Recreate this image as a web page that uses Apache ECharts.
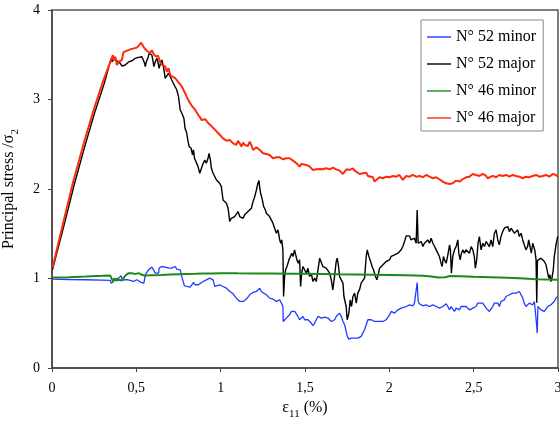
<!DOCTYPE html>
<html>
<head>
<meta charset="utf-8">
<script src="https://cdn.jsdelivr.net/npm/echarts@6/dist/echarts.min.js"></script>
<style>
  html, body { margin: 0; padding: 0; background: #fff; }
  #chart { width: 560px; height: 422px; }
</style>
</head>
<body>
<div id="chart"></div>
<script>
// Axis ticks
var xTicks = [0, 0.5, 1, 1.5, 2, 2.5, 3];
var yTicks = [0, 1, 2, 3, 4];

// Series names
var seriesNames = ['N° 52 minor', 'N° 52 major', 'N° 46 minor', 'N° 46 major'];

// Specimen 52, minor principal stress: [strain %, stress ratio]
var n52Minor = [
  [0.003,0.993],[0.099,0.989],[0.197,0.986],[0.296,0.982],[0.345,0.978],[0.351,0.948],[0.359,0.941],[0.365,0.967],
  [0.375,0.993],[0.385,0.986],[0.395,1.004],[0.405,0.993],[0.410,1.03],[0.418,0.978],[0.430,0.986],[0.438,0.967],
  [0.450,0.986],[0.464,0.978],[0.474,0.993],[0.484,0.967],[0.493,0.978],[0.503,0.986],[0.513,0.967],[0.529,0.956],
  [0.537,0.967],[0.545,0.948],[0.553,1.041],[0.562,1.06],[0.572,1.097],[0.582,1.116],[0.592,1.127],[0.602,1.097],
  [0.612,1.06],[0.622,1.079],[0.632,1.06],[0.635,1.116],[0.641,1.127],[0.651,1.134],[0.661,1.142],[0.671,1.127],
  [0.681,1.142],[0.691,1.116],[0.701,1.134],[0.710,1.116],[0.720,1.123],[0.730,1.134],[0.740,1.105],[0.750,1.09],
  [0.760,1.097],[0.770,1.015],[0.780,0.993],[0.785,0.919],[0.799,0.911],[0.809,0.919],[0.819,0.904],[0.829,0.93],
  [0.839,0.956],[0.849,0.93],[0.858,0.941],[0.868,0.93],[0.878,0.948],[0.896,0.966],[0.915,0.985],[0.935,1.004],
  [0.945,1.022],[0.955,0.985],[0.965,0.911],[0.975,0.93],[0.994,0.93],[1.014,0.911],[1.034,0.892],[1.054,0.855],
  [1.074,0.829],[1.093,0.781],[1.113,0.744],[1.123,0.725],[1.133,0.744],[1.153,0.77],[1.172,0.818],[1.192,0.844],
  [1.212,0.855],[1.222,0.874],[1.232,0.892],[1.241,0.855],[1.251,0.837],[1.271,0.818],[1.291,0.781],[1.301,0.762],
  [1.310,0.77],[1.330,0.744],[1.340,0.762],[1.350,0.762],[1.360,0.725],[1.369,0.688],[1.371,0.52],[1.380,0.539],
  [1.389,0.558],[1.399,0.576],[1.409,0.595],[1.419,0.632],[1.429,0.65],[1.439,0.632],[1.449,0.613],[1.458,0.576],
  [1.468,0.539],[1.478,0.558],[1.488,0.576],[1.498,0.539],[1.508,0.558],[1.518,0.539],[1.528,0.52],[1.537,0.502],
  [1.547,0.472],[1.557,0.502],[1.567,0.539],[1.577,0.576],[1.587,0.595],[1.597,0.558],[1.607,0.576],[1.616,0.569],
  [1.626,0.576],[1.636,0.558],[1.646,0.539],[1.656,0.52],[1.666,0.502],[1.676,0.539],[1.685,0.576],[1.695,0.595],
  [1.705,0.613],[1.715,0.576],[1.725,0.52],[1.735,0.483],[1.745,0.465],[1.751,0.353],[1.760,0.323],[1.774,0.334],
  [1.784,0.316],[1.794,0.334],[1.804,0.316],[1.814,0.334],[1.824,0.323],[1.833,0.353],[1.843,0.39],[1.853,0.427],
  [1.863,0.483],[1.873,0.539],[1.883,0.558],[1.893,0.539],[1.903,0.558],[1.912,0.52],[1.922,0.502],[1.932,0.52],
  [1.942,0.509],[1.962,0.52],[1.981,0.539],[2.001,0.594],[2.011,0.632],[2.021,0.65],[2.031,0.613],[2.041,0.632],
  [2.051,0.65],[2.060,0.632],[2.070,0.669],[2.080,0.658],[2.100,0.687],[2.120,0.706],[2.139,0.695],[2.149,0.725],
  [2.159,0.743],[2.165,0.955],[2.171,0.743],[2.179,0.717],[2.189,0.706],[2.199,0.695],[2.218,0.706],[2.238,0.687],
  [2.258,0.706],[2.278,0.687],[2.297,0.669],[2.307,0.65],[2.317,0.687],[2.337,0.717],[2.347,0.687],[2.357,0.65],
  [2.366,0.687],[2.376,0.658],[2.386,0.632],[2.396,0.669],[2.406,0.687],[2.416,0.65],[2.425,0.687],[2.435,0.669],
  [2.455,0.687],[2.475,0.65],[2.495,0.669],[2.514,0.687],[2.524,0.725],[2.534,0.743],[2.554,0.725],[2.574,0.669],
  [2.593,0.632],[2.603,0.65],[2.613,0.687],[2.623,0.725],[2.633,0.706],[2.643,0.725],[2.652,0.687],[2.662,0.743],
  [2.672,0.725],[2.682,0.762],[2.692,0.799],[2.702,0.781],[2.712,0.818],[2.722,0.799],[2.731,0.836],[2.741,0.855],
  [2.751,0.836],[2.761,0.844],[2.771,0.855],[2.781,0.836],[2.791,0.781],[2.800,0.725],[2.810,0.687],[2.820,0.706],
  [2.830,0.725],[2.840,0.743],[2.850,0.706],[2.860,0.743],[2.870,0.725],[2.874,0.465],[2.877,0.39],[2.881,0.687],
  [2.889,0.706],[2.899,0.65],[2.909,0.669],[2.919,0.632],[2.929,0.65],[2.939,0.687],[2.949,0.669],[2.958,0.706],
  [2.968,0.725],[2.978,0.743],[2.988,0.781],[2.998,0.799]
];

// Specimen 52, major principal stress
var n52Major = [
  [0.003,1.10],[0.072,1.60],[0.132,2.05],[0.192,2.46],[0.251,2.84],[0.31,3.18],[0.351,3.46],[0.355,3.42],
  [0.365,3.448],[0.375,3.441],[0.385,3.433],[0.395,3.448],[0.405,3.404],[0.414,3.374],[0.424,3.367],[0.434,3.385],
  [0.444,3.404],[0.454,3.42],[0.464,3.441],[0.474,3.433],[0.484,3.448],[0.493,3.46],[0.503,3.448],[0.513,3.471],
  [0.523,3.46],[0.533,3.478],[0.543,3.46],[0.549,3.404],[0.553,3.367],[0.559,3.42],[0.568,3.46],[0.576,3.516],
  [0.586,3.534],[0.592,3.497],[0.598,3.441],[0.604,3.367],[0.612,3.42],[0.622,3.46],[0.628,3.42],[0.635,3.348],
  [0.643,3.404],[0.651,3.441],[0.661,3.367],[0.671,3.237],[0.681,3.255],[0.691,3.292],[0.701,3.255],[0.710,3.218],
  [0.720,3.2],[0.730,3.143],[0.740,3.106],[0.750,3.032],[0.760,2.883],[0.770,2.846],[0.776,2.864],[0.782,2.79],
  [0.789,2.678],[0.799,2.623],[0.805,2.548],[0.813,2.474],[0.825,2.455],[0.833,2.381],[0.839,2.437],[0.845,2.344],
  [0.853,2.325],[0.866,2.25],[0.876,2.176],[0.886,2.231],[0.896,2.287],[0.906,2.324],[0.915,2.287],[0.925,2.343],
  [0.931,2.399],[0.939,2.324],[0.945,2.231],[0.955,2.176],[0.965,2.194],[0.975,2.101],[0.985,2.12],[0.994,2.064],
  [1.004,2.027],[1.014,1.878],[1.024,1.897],[1.034,1.841],[1.044,1.785],[1.054,1.636],[1.063,1.673],[1.073,1.655],
  [1.083,1.692],[1.093,1.673],[1.103,1.748],[1.113,1.692],[1.123,1.711],[1.133,1.673],[1.142,1.711],[1.152,1.729],
  [1.162,1.748],[1.172,1.748],[1.182,1.785],[1.192,1.859],[1.202,1.915],[1.212,1.99],[1.221,2.064],[1.227,2.094],
  [1.231,2.027],[1.237,1.952],[1.247,1.878],[1.255,1.804],[1.265,1.766],[1.271,1.729],[1.281,1.748],[1.290,1.692],
  [1.300,1.655],[1.310,1.618],[1.320,1.562],[1.330,1.506],[1.340,1.543],[1.350,1.432],[1.356,1.394],[1.362,1.432],
  [1.369,1.32],[1.373,0.799],[1.379,1.022],[1.385,1.097],[1.393,1.134],[1.405,1.208],[1.413,1.227],[1.421,1.283],
  [1.429,1.245],[1.438,1.32],[1.444,1.339],[1.452,1.208],[1.460,1.171],[1.468,1.208],[1.474,0.911],[1.480,1.06],
  [1.488,1.134],[1.498,1.153],[1.508,1.059],[1.517,1.115],[1.527,1.022],[1.537,1.059],[1.547,0.966],[1.557,1.004],
  [1.567,0.966],[1.577,1.097],[1.587,1.227],[1.596,1.208],[1.606,1.134],[1.616,1.153],[1.626,1.115],[1.636,1.134],
  [1.646,1.059],[1.656,0.985],[1.665,0.873],[1.675,1.022],[1.685,1.19],[1.691,1.227],[1.699,1.134],[1.705,1.022],
  [1.715,0.985],[1.725,0.948],[1.731,0.799],[1.736,0.818],[1.744,0.687],[1.750,0.539],[1.760,0.613],[1.768,0.762],
  [1.776,0.687],[1.784,0.799],[1.794,0.836],[1.804,0.725],[1.813,0.836],[1.823,0.873],[1.833,0.948],[1.843,0.966],
  [1.853,1.004],[1.863,1.246],[1.869,1.32],[1.879,1.246],[1.886,1.208],[1.898,1.134],[1.906,1.097],[1.918,1.022],
  [1.926,0.985],[1.936,1.059],[1.942,1.115],[1.952,1.134],[1.962,1.153],[1.972,1.171],[1.981,1.19],[1.991,1.171],
  [2.001,1.208],[2.011,1.246],[2.021,1.227],[2.031,1.264],[2.041,1.246],[2.051,1.283],[2.060,1.301],[2.070,1.32],
  [2.080,1.357],[2.090,1.413],[2.100,1.476],[2.110,1.487],[2.120,1.476],[2.129,1.431],[2.139,1.413],[2.149,1.45],
  [2.159,1.394],[2.165,1.766],[2.171,1.394],[2.179,1.376],[2.189,1.413],[2.199,1.357],[2.208,1.394],[2.218,1.376],
  [2.228,1.431],[2.238,1.394],[2.248,1.45],[2.258,1.394],[2.268,1.357],[2.278,1.32],[2.287,1.301],[2.297,1.245],
  [2.307,1.171],[2.313,1.134],[2.321,1.245],[2.327,1.208],[2.337,1.171],[2.347,1.264],[2.357,1.376],[2.362,1.32],
  [2.368,1.059],[2.376,1.245],[2.386,1.32],[2.396,1.357],[2.406,1.431],[2.412,1.283],[2.420,1.208],[2.425,1.264],
  [2.435,1.32],[2.445,1.283],[2.455,1.32],[2.465,1.339],[2.475,1.283],[2.485,1.357],[2.495,1.32],[2.504,1.245],
  [2.510,1.115],[2.518,1.208],[2.526,1.394],[2.534,1.469],[2.544,1.32],[2.554,1.394],[2.564,1.357],[2.574,1.413],
  [2.583,1.394],[2.593,1.357],[2.603,1.431],[2.613,1.357],[2.623,1.506],[2.633,1.543],[2.643,1.431],[2.652,1.376],
  [2.662,1.469],[2.672,1.524],[2.682,1.562],[2.692,1.543],[2.702,1.58],[2.712,1.524],[2.722,1.562],[2.731,1.58],
  [2.741,1.506],[2.751,1.524],[2.761,1.543],[2.771,1.469],[2.781,1.506],[2.791,1.431],[2.800,1.413],[2.810,1.32],
  [2.820,1.357],[2.826,1.431],[2.834,1.413],[2.842,1.283],[2.850,1.394],[2.856,1.413],[2.862,1.32],[2.870,1.208],
  [2.874,0.73],[2.878,1.2],[2.889,1.208],[2.899,1.227],[2.909,1.246],[2.919,1.19],[2.929,1.153],[2.939,1.059],
  [2.945,1.004],[2.952,1.041],[2.958,0.966],[2.964,1.004],[2.972,1.097],[2.978,1.245],[2.988,1.376],[2.998,1.469]
];

// Specimen 46, minor principal stress
var n46Minor = [
  [0.003,1.012],[0.1,1.015],[0.2,1.022],[0.3,1.03],[0.345,1.034],[0.355,1.015],[0.361,0.967],[0.371,1.004],
  [0.379,0.978],[0.387,0.993],[0.395,0.986],[0.405,0.993],[0.414,0.978],[0.424,1.004],[0.434,1.03],[0.444,1.041],
  [0.454,1.06],[0.474,1.06],[0.493,1.049],[0.513,1.06],[0.533,1.041],[0.553,1.03],[0.572,1.035],[0.6,1.036],
  [0.65,1.04],[0.7,1.045],[0.75,1.048],[0.8,1.05],[0.85,1.052],[0.9,1.055],[0.95,1.056],[1.0,1.058],
  [1.05,1.06],[1.1,1.058],[1.2,1.056],[1.3,1.055],[1.4,1.053],[1.5,1.052],[1.6,1.05],[1.7,1.047],
  [1.8,1.045],[1.9,1.043],[2.0,1.04],[2.1,1.035],[2.2,1.03],[2.25,1.022],[2.29,1.01],[2.33,1.015],
  [2.36,1.028],[2.42,1.025],[2.5,1.02],[2.6,1.015],[2.7,1.008],[2.8,1.0],[2.87,0.993],[2.93,0.99],[2.998,0.985]
];

// Specimen 46, major principal stress
var n46Major = [
  [0.003,1.12],[0.065,1.61],[0.124,2.07],[0.184,2.48],[0.243,2.86],[0.302,3.20],[0.361,3.497],[0.365,3.44],
  [0.375,3.478],[0.385,3.385],[0.395,3.42],[0.405,3.40],[0.414,3.44],[0.424,3.53],[0.434,3.55],[0.464,3.56],
  [0.474,3.57],[0.503,3.58],[0.517,3.608],[0.529,3.634],[0.537,3.62],[0.549,3.57],[0.562,3.545],[0.572,3.56],
  [0.582,3.52],[0.592,3.55],[0.602,3.51],[0.616,3.48],[0.628,3.49],[0.641,3.42],[0.655,3.385],[0.671,3.37],
  [0.681,3.31],[0.691,3.35],[0.701,3.27],[0.714,3.255],[0.730,3.24],[0.746,3.20],[0.760,3.17],[0.774,3.13],
  [0.789,3.07],[0.799,3.03],[0.813,2.976],[0.829,2.93],[0.849,2.883],[0.868,2.827],[0.888,2.77],[0.908,2.78],
  [0.928,2.733],[0.947,2.70],[0.967,2.66],[0.987,2.62],[1.014,2.566],[1.034,2.540],[1.054,2.548],[1.074,2.51],
  [1.084,2.529],[1.093,2.492],[1.103,2.537],[1.113,2.51],[1.123,2.473],[1.133,2.518],[1.143,2.492],[1.153,2.51],
  [1.162,2.481],[1.172,2.529],[1.182,2.492],[1.192,2.436],[1.212,2.466],[1.232,2.436],[1.251,2.399],[1.271,2.391],
  [1.291,2.38],[1.310,2.343],[1.330,2.354],[1.340,2.332],[1.350,2.354],[1.370,2.332],[1.389,2.343],[1.399,2.354],
  [1.409,2.343],[1.429,2.317],[1.449,2.287],[1.468,2.25],[1.478,2.28],[1.488,2.258],[1.508,2.269],[1.528,2.25],
  [1.547,2.213],[1.557,2.194],[1.567,2.22],[1.587,2.224],[1.606,2.22],[1.626,2.231],[1.646,2.22],[1.666,2.239],
  [1.685,2.22],[1.705,2.205],[1.725,2.168],[1.735,2.183],[1.745,2.22],[1.764,2.213],[1.784,2.231],[1.794,2.205],
  [1.804,2.183],[1.824,2.168],[1.843,2.176],[1.863,2.183],[1.873,2.146],[1.883,2.138],[1.903,2.131],[1.912,2.083],
  [1.922,2.094],[1.942,2.131],[1.962,2.120],[1.981,2.138],[2.001,2.131],[2.021,2.146],[2.041,2.138],[2.060,2.157],
  [2.070,2.138],[2.080,2.101],[2.090,2.120],[2.100,2.146],[2.120,2.138],[2.139,2.157],[2.159,2.138],[2.179,2.146],
  [2.199,2.131],[2.218,2.157],[2.238,2.138],[2.248,2.146],[2.258,2.120],[2.278,2.131],[2.297,2.109],[2.317,2.083],
  [2.327,2.094],[2.337,2.064],[2.347,2.045],[2.357,2.056],[2.376,2.064],[2.396,2.094],[2.416,2.083],[2.435,2.109],
  [2.445,2.101],[2.455,2.131],[2.475,2.138],[2.495,2.168],[2.514,2.157],[2.534,2.146],[2.554,2.168],[2.574,2.146],
  [2.583,2.120],[2.593,2.138],[2.613,2.146],[2.633,2.131],[2.652,2.157],[2.672,2.146],[2.692,2.157],[2.712,2.138],
  [2.731,2.157],[2.751,2.146],[2.771,2.138],[2.791,2.120],[2.810,2.138],[2.830,2.131],[2.850,2.146],[2.870,2.157],
  [2.889,2.138],[2.909,2.146],[2.929,2.157],[2.949,2.138],[2.968,2.168],[2.978,2.176],[2.988,2.157],[2.998,2.138]
];

var serif = '"Liberation Serif", "Times New Roman", serif';
var decimalComma = function (v) { return String(v).replace('.', ','); };
// thin horizontal bar used as the legend key
var legendKey = 'path://M0,0H24V1.4H0Z';

var chart = echarts.init(document.getElementById('chart'), null, { renderer: 'canvas' });

function lineSeries(name, data, color, width) {
  return {
    name: name,
    type: 'line',
    data: data,
    symbol: 'none',
    showSymbol: false,
    color: color,
    lineStyle: { color: color, width: width },
    emphasis: { disabled: true },
    animation: false
  };
}

chart.setOption({
  backgroundColor: '#fff',
  animation: false,
  textStyle: { fontFamily: serif },
  grid: {
    left: 52, top: 10, right: 2, bottom: 54,
    containLabel: false,
    outerBoundsMode: 'none',
    show: true, borderColor: '#555', borderWidth: 1.5, backgroundColor: 'transparent'
  },
  legend: {
    orient: 'vertical',
    left: 421, top: 20,
    padding: [9, 7, 5, 6],
    itemGap: 11,
    itemWidth: 24,
    itemHeight: 14,
    symbolKeepAspect: true,
    borderColor: '#888',
    borderWidth: 1,
    backgroundColor: '#fff',
    textStyle: { fontFamily: serif, fontSize: 16, color: '#000', lineHeight: 16 },
    data: seriesNames.map(function (n) { return { name: n, icon: legendKey }; })
  },
  xAxis: {
    type: 'value',
    min: xTicks[0], max: xTicks[xTicks.length - 1], interval: 0.5,
    name: '{e|ε}{s|11}{e| (%)}',
    nameLocation: 'middle',
    nameGap: 30,
    nameTextStyle: {
      rich: {
        e: { fontFamily: serif, fontSize: 16, color: '#000', lineHeight: 18, verticalAlign: 'bottom' },
        s: { fontFamily: serif, fontSize: 11, color: '#000', lineHeight: 18, verticalAlign: 'bottom', padding: [0, 0, -4, 0] }
      }
    },
    axisLine: { lineStyle: { color: '#444', width: 1.5 } },
    axisTick: { show: true, length: 4, lineStyle: { color: '#444' } },
    axisLabel: { margin: 13, fontFamily: serif, fontSize: 14, color: '#000', formatter: decimalComma },
    splitLine: { show: false }
  },
  yAxis: {
    type: 'value',
    min: yTicks[0], max: yTicks[yTicks.length - 1], interval: 1,
    name: '{e|Principal stress /σ}{s|2}',
    nameLocation: 'middle',
    nameGap: 35,
    nameRotate: 90,
    nameTextStyle: {
      rich: {
        e: { fontFamily: serif, fontSize: 16, color: '#000', lineHeight: 18, verticalAlign: 'bottom' },
        s: { fontFamily: serif, fontSize: 11, color: '#000', lineHeight: 18, verticalAlign: 'bottom', padding: [0, 0, -4, 0] }
      }
    },
    axisLine: { show: true, lineStyle: { color: '#444', width: 1.5 } },
    axisTick: { show: true, length: 4, lineStyle: { color: '#444' } },
    axisLabel: { margin: 12, fontFamily: serif, fontSize: 14, color: '#000', formatter: decimalComma },
    splitLine: { show: false }
  },
  series: [
    lineSeries(seriesNames[0], n52Minor, '#1f3cff', 1.3),
    lineSeries(seriesNames[1], n52Major, '#000000', 1.4),
    lineSeries(seriesNames[2], n46Minor, '#1a8a1a', 2),
    lineSeries(seriesNames[3], n46Major, '#ff2a0a', 2)
  ]
});
</script>
</body>
</html>
